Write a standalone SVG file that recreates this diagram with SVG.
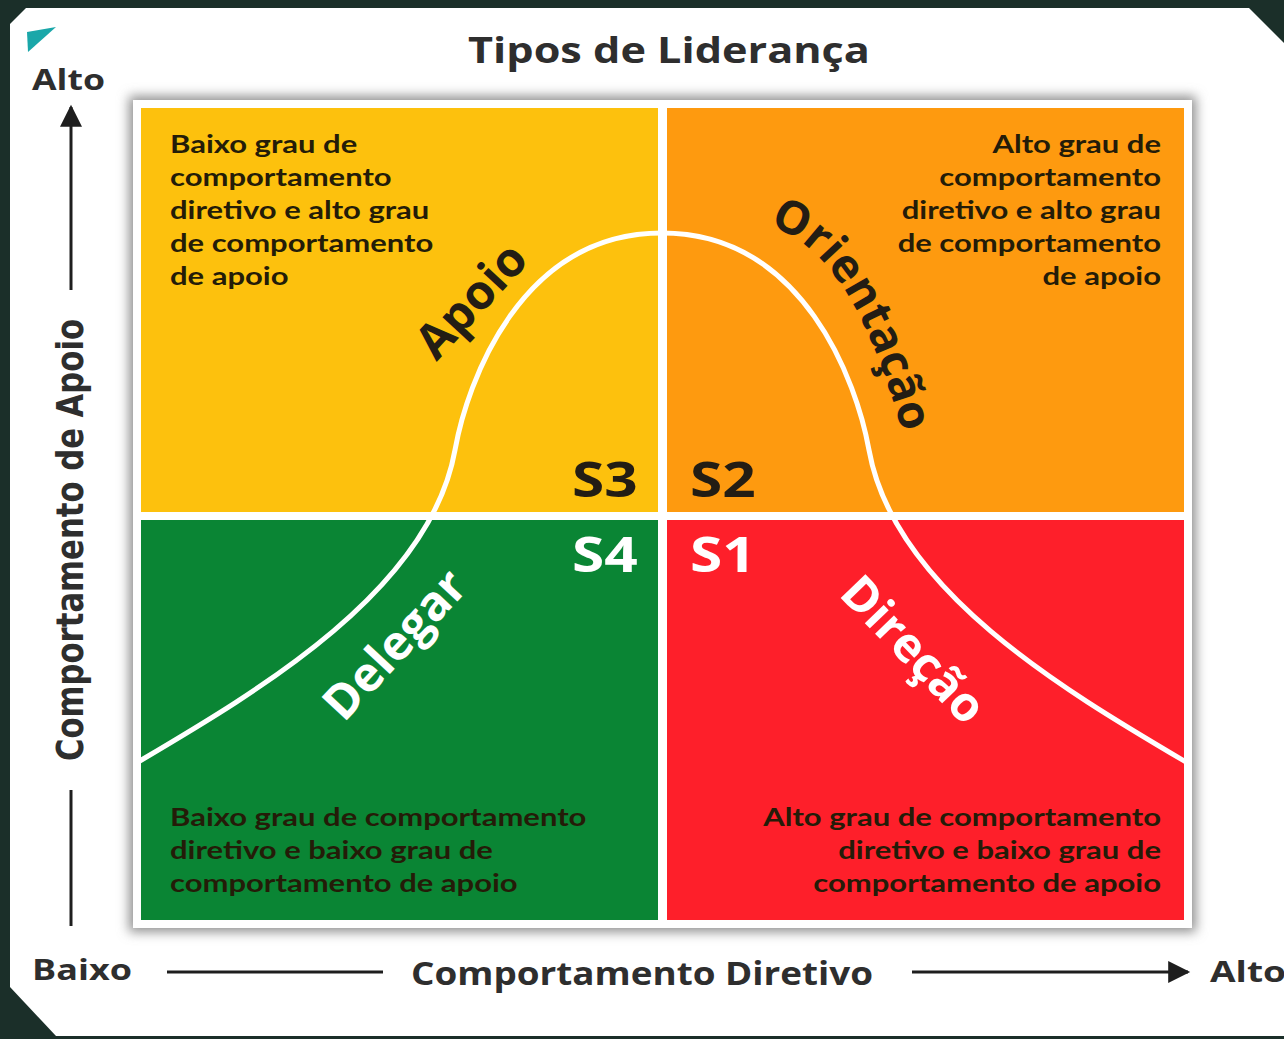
<svg xmlns="http://www.w3.org/2000/svg" width="1284" height="1039" viewBox="0 0 1284 1039">
<defs>
<style>
.ttl{font-family:"Open Sans","Liberation Sans",sans-serif;font-weight:700;fill:#2e2e2e}
.ax{font-family:"Open Sans","Liberation Sans",sans-serif;font-weight:700;fill:#2e2e2e}
.q{font-family:Lato,"Open Sans",sans-serif;font-weight:700;font-size:25px;fill:#241c08}
.qr{text-anchor:end}
.s{font-family:"Open Sans","Liberation Sans",sans-serif;font-weight:700;font-size:48px}
.lbl{font-family:"Open Sans","Liberation Sans",sans-serif;font-weight:700;font-size:48px;text-anchor:middle}
.dark{fill:#231d14}
.light{fill:#ffffff}
.axl{stroke:#1e1e1e;stroke-width:3;fill:none}
</style>
<filter id="sh" x="-5%" y="-5%" width="110%" height="110%">
<feGaussianBlur stdDeviation="6"/>
</filter>
<clipPath id="qc"><rect x="141" y="108" width="1043" height="812"/></clipPath>
<marker id="ah" viewBox="0 0 10 10" refX="9" refY="5" markerWidth="24" markerHeight="22" markerUnits="userSpaceOnUse" orient="auto"><path d="M0,0L10,5L0,10z" fill="#1e1e1e"/></marker>
</defs>
<rect x="0" y="0" width="1284" height="1039" fill="#1b2f29"/>
<polygon points="10,24 26,8 1249,8 1284,43 1284,1036 56,1036 10,987" fill="#ffffff"/>
<polygon points="27,32 56,27 28,52" fill="#1aa7a9"/>
<g transform="translate(669 0) scale(1.2 1)"><text class="ttl" x="0" y="63" font-size="36" text-anchor="middle">Tipos de Liderança</text></g>

<g id="frame">
<rect x="129" y="96" width="1067" height="836" fill="#8f8f8f" filter="url(#sh)"/>
<rect x="133" y="100" width="1059" height="828" fill="#ffffff"/>
</g>
<g id="q-s3">
<rect x="141" y="108" width="517" height="404" fill="#fdc10d"/>
<g transform="translate(170 0) scale(1.24 1)">
<text class="q" x="0" y="153">Baixo grau de</text>
<text class="q" x="0" y="186">comportamento</text>
<text class="q" x="0" y="219">diretivo e alto grau</text>
<text class="q" x="0" y="252">de comportamento</text>
<text class="q" x="0" y="285">de apoio</text>
</g>
<g transform="translate(572 0) scale(1.22 1)"><text class="s dark" x="0" y="497">S3</text></g>
</g>
<g id="q-s2">
<rect x="667" y="108" width="517" height="404" fill="#fe9a0f"/>
<g transform="translate(1161 0) scale(1.24 1)">
<text class="q qr" x="0" y="153">Alto grau de</text>
<text class="q qr" x="0" y="186">comportamento</text>
<text class="q qr" x="0" y="219">diretivo e alto grau</text>
<text class="q qr" x="0" y="252">de comportamento</text>
<text class="q qr" x="0" y="285">de apoio</text>
</g>
<g transform="translate(690 0) scale(1.22 1)"><text class="s dark" x="0" y="497">S2</text></g>
</g>
<g id="q-s4">
<rect x="141" y="520" width="517" height="400" fill="#0a8534"/>
<g transform="translate(170 0) scale(1.24 1)">
<text class="q" x="0" y="826">Baixo grau de comportamento</text>
<text class="q" x="0" y="859">diretivo e baixo grau de</text>
<text class="q" x="0" y="892">comportamento de apoio</text>
</g>
<g transform="translate(572 0) scale(1.22 1)"><text class="s light" x="0" y="572">S4</text></g>
</g>
<g id="q-s1">
<rect x="667" y="520" width="517" height="400" fill="#fe1f2a"/>
<g transform="translate(1161 0) scale(1.24 1)">
<text class="q qr" x="0" y="826">Alto grau de comportamento</text>
<text class="q qr" x="0" y="859">diretivo e baixo grau de</text>
<text class="q qr" x="0" y="892">comportamento de apoio</text>
</g>
<g transform="translate(690 0) scale(1.22 1)"><text class="s light" x="0" y="572">S1</text></g>
</g>

<g id="connectors">
<path id="curve" clip-path="url(#qc)" d="M138,762 C260,690 430,590 455,450 C467,383 520,233 662,233 C804,233 857,383 869,450 C894,590 1064,690 1186,762" fill="none" stroke="#ffffff" stroke-width="5"/>
<line class="axl" x1="71" y1="290" x2="71" y2="107" marker-end="url(#ah)"/>
<line class="axl" x1="71" y1="790" x2="71" y2="926"/>
<line class="axl" x1="167" y1="972" x2="383" y2="972"/>
<line class="axl" x1="912" y1="972" x2="1188" y2="972" marker-end="url(#ah)"/>
</g>

<g id="labels">
<text class="lbl dark" transform="rotate(-47 471 300)" x="471" y="317">Apoio</text>
<path id="op" d="M745,220 C833,231 873,326 908,451" fill="none"/>
<text class="lbl dark" style="text-anchor:start;font-size:46px"><textPath href="#op" startOffset="24">Orientação</textPath></text>
<text class="lbl light" transform="rotate(-47 395 645)" x="395" y="661">Delegar</text>
<text class="lbl light" transform="rotate(46 913 650)" x="913" y="666">Direção</text>
</g>

<g id="axes">
<text class="ax" x="32" y="90" font-size="28" textLength="73" lengthAdjust="spacingAndGlyphs">Alto</text>
<text class="ax" transform="rotate(-90 70 540)" x="70" y="553" font-size="38" text-anchor="middle" style="font-family:'DejaVu Sans Condensed','DejaVu Sans',sans-serif;font-stretch:condensed" textLength="442" lengthAdjust="spacingAndGlyphs">Comportamento de Apoio</text>
<text class="ax" x="32" y="980" font-size="28" textLength="100" lengthAdjust="spacingAndGlyphs">Baixo</text>
<text class="ax" x="411" y="985" font-size="33" textLength="462" lengthAdjust="spacingAndGlyphs">Comportamento Diretivo</text>
<text class="ax" x="1210" y="982" font-size="28" textLength="76" lengthAdjust="spacingAndGlyphs">Alto</text>
</g>
</svg>
